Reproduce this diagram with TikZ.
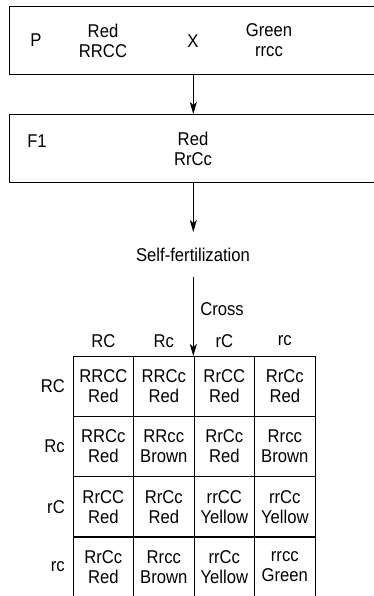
\documentclass[tikz,border=0pt]{standalone}
\usepackage{fontspec}
\setmainfont{Liberation Sans}[FakeStretch=0.9]
\usetikzlibrary{arrows.meta}
\tikzset{
  lbl/.style={inner sep=0pt, font=\fontsize{18.5}{20}\selectfont, align=center},
  frame/.style={draw, line width=1.2pt},
  cell/.style={draw, line width=1.1pt, minimum width=60.5pt, minimum height=60.3pt, inner sep=0pt, font=\fontsize{18.5}{20}\selectfont, align=center},
  flow/.style={line width=1.1pt, -{Stealth[length=12pt, width=7pt, inset=3pt]}},
}
\begin{document}
\begin{tikzpicture}[x=1pt, y=-1pt]
\clip (0,0) rectangle (374,596);
% generation boxes
\node[frame, anchor=north west, minimum width=380pt, minimum height=68pt, inner sep=0pt] (pbox) at (9,6) {};
\node[frame, anchor=north west, minimum width=380pt, minimum height=68pt, inner sep=0pt] (fbox) at (9,114) {};
\node[lbl] (p) at (36,40) {P};
\node[lbl] (pred) at (103,40.5) {Red\\RRCC};
\node[lbl] (x) at (193,41) {X};
\node[lbl] (pgreen) at (269,40.5) {Green\\rrcc};
\node[lbl] (f1) at (37,141) {F1};
\node[lbl] (fred) at (193,148.5) {Red\\RrCc};
\node[lbl] (self) at (193,254.5) {Self-fertilization};
\coordinate (a1s) at (193.3,74);
\coordinate (a1e) at (193.3,114);
\coordinate (a2s) at (193.3,182);
\coordinate (a2e) at (193.3,232);
\coordinate (a3s) at (193.3,277);
\draw[flow] (a1s) -- (a1e);
\draw[flow] (a2s) -- (a2e);
\node[lbl] (cross) at (222,309) {Cross};
% column headers
\node[lbl] (hRC) at (103.3,341) {RC};
\node[lbl] (hRc) at (163.8,341) {Rc};
\node[lbl] (hrC) at (224.3,341) {rC};
\node[lbl] (hrc) at (284.8,341) {rc};
% row headers
\node[lbl, anchor=east] (vRC) at (65,386) {RC};
\node[lbl, anchor=east] (vRc) at (65,446.5) {Rc};
\node[lbl, anchor=east] (vrC) at (65,507) {rC};
\node[lbl, anchor=east] (vrc) at (65,567) {rc};
% punnett square
\node[cell] (c11) at (103.3,386.2) {RRCC\\Red};
\node[cell] (c12) at (163.8,386.2) {RRCc\\Red};
\node[cell] (c13) at (224.3,386.2) {RrCC\\Red};
\node[cell] (c14) at (284.8,386.2) {RrCc\\Red};
\node[cell] (c21) at (103.3,446.5) {RRCc\\Red};
\node[cell] (c22) at (163.8,446.5) {RRcc\\Brown};
\node[cell] (c23) at (224.3,446.5) {RrCc\\Red};
\node[cell] (c24) at (284.8,446.5) {Rrcc\\Brown};
\node[cell] (c31) at (103.3,506.8) {RrCC\\Red};
\node[cell] (c32) at (163.8,506.8) {RrCc\\Red};
\node[cell] (c33) at (224.3,506.8) {rrCC\\Yellow};
\node[cell] (c34) at (284.8,506.8) {rrCc\\Yellow};
\node[cell] (c41) at (103.3,567.1) {RrCc\\Red};
\node[cell] (c42) at (163.8,567.1) {Rrcc\\Brown};
\node[cell] (c43) at (224.3,567.1) {rrCc\\Yellow};
\node[cell] (c44) at (284.8,567.1) {rrcc\\Green};
\coordinate (a3e) at (193.3,356);
\draw[flow] (a3s) -- (a3e);
\end{tikzpicture}
\end{document}
